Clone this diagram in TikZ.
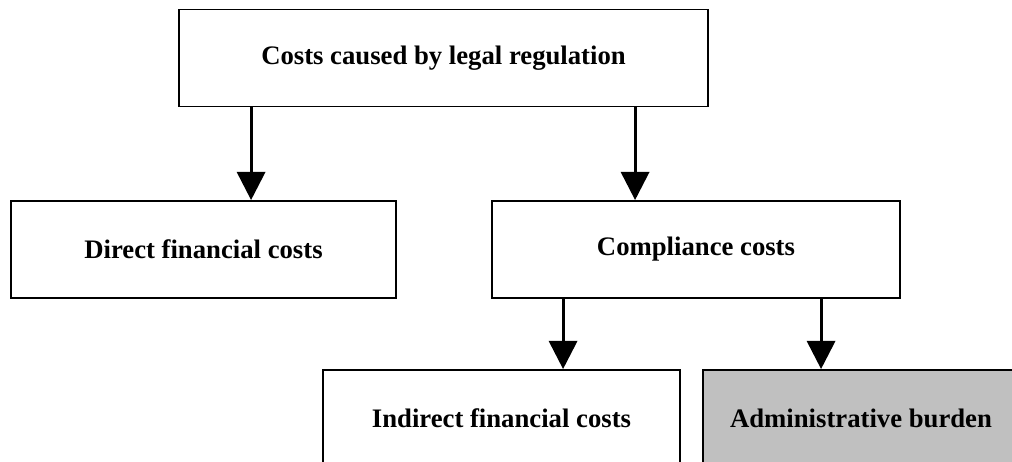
\documentclass[tikz,border=0pt]{standalone}
\usepackage{fontspec}
\setmainfont{Liberation Serif}
\usetikzlibrary{arrows.meta, positioning, calc}

\definecolor{burdengray}{HTML}{C0C0C0}

\begin{document}
\begin{tikzpicture}[
        x=0.02cm, y=-0.02cm,
        costbox/.style={draw, line width=1.1pt, minimum height=1.94cm, align=center, font=\fontsize{15.2}{18}\selectfont\bfseries, inner sep=0pt},
        arrow/.style={-{Triangle[length=16pt, width=16pt]}, line width=1.7pt}
    ]
        \clip (0,0) rectangle (1012,461);

        % Top level
        \node[costbox, minimum width=10.58cm] (legal) at (443.5, 58) {Costs caused by legal regulation};

        % Second level
        \node[costbox, minimum width=7.7cm] (direct) at (203.5, 249.5) {Direct financial costs};
        \node[costbox, minimum width=8.16cm] (compliance) at (696, 249.5) {Compliance costs};

        % Third level
        \node[costbox, minimum width=7.14cm] (indirect) at (501.5, 418.5) {Indirect financial costs};
        \node[costbox, minimum width=6.32cm, fill=burdengray] (admin) at (861, 418.5) {Administrative burden};

        \draw[arrow] ($(legal.south west)+(73,0)$) coordinate (a1) -- (a1 |- direct.north);
        \draw[arrow] ($(legal.south west)+(457,0)$) coordinate (a2) -- (a2 |- compliance.north);
        \draw[arrow] ($(compliance.south west)+(72,0)$) coordinate (a3) -- (a3 |- indirect.north);
        \draw[arrow] ($(compliance.south west)+(330,0)$) coordinate (a4) -- (a4 |- admin.north);

    \end{tikzpicture}
\end{document}
